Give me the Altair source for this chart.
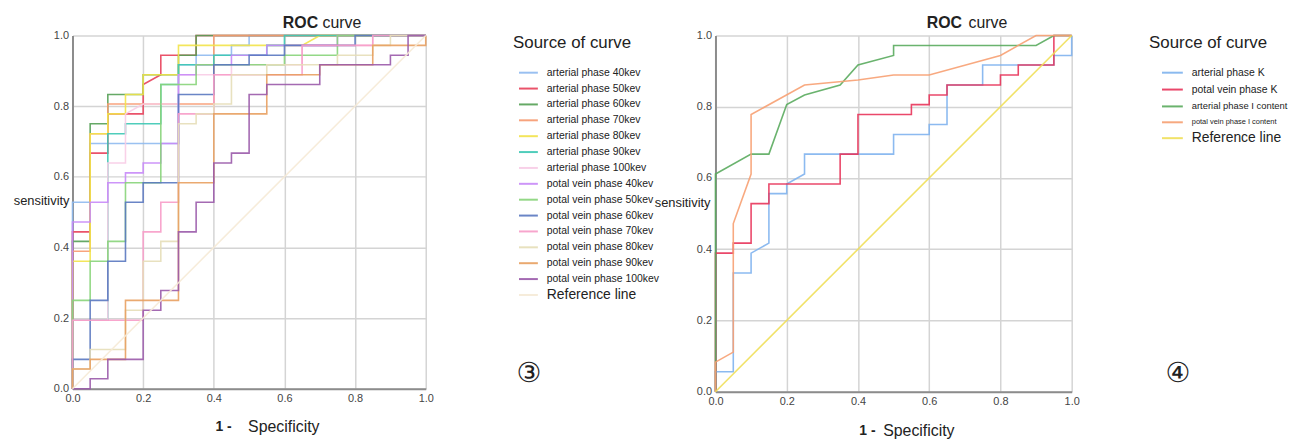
import altair as alt
import pandas as pd

FONT = "Liberation Sans"

# ---------------- left panel (energy levels) ----------------
LEFT_LABELS = [
    "arterial phase 40kev", "arterial phase 50kev", "arterial phase 60kev",
    "arterial phase 70kev", "arterial phase 80kev", "arterial phase 90kev",
    "arterial phase 100kev", "potal vein phase 40kev", "potal vein phase 50kev",
    "potal vein phase 60kev", "potal vein phase 70kev", "potal vein phase 80kev",
    "potal vein phase 90kev", "potal vein phase 100kev", "Reference line",
]
LEFT_COLORS = [
    "#8fbaf0", "#e8405a", "#55a055", "#f79a70", "#f2e34a", "#3cc8b4",
    "#f8cce6", "#c88af8", "#88d47a", "#5a78c0", "#f79cc8", "#e6deb8",
    "#e8a060", "#9a5aaa", "#f6ead6",
]

art40 = [(0, 0), (0, 0.528), (0.05, 0.528), (0.05, 0.694), (0.3, 0.694), (0.3, 0.917),
         (0.35, 0.917), (0.35, 0.944), (0.45, 0.944), (0.45, 0.972), (0.5, 0.972),
         (0.5, 1.0), (1, 1)]
art50 = [(0, 0), (0, 0.444), (0.05, 0.444), (0.05, 0.667), (0.1, 0.667), (0.1, 0.778),
         (0.2, 0.778), (0.2, 0.861), (0.25, 0.889), (0.25, 0.944), (0.35, 0.944),
         (0.35, 1.0), (1, 1)]
art60 = [(0, 0), (0, 0.417), (0.05, 0.417), (0.05, 0.75), (0.1, 0.75), (0.1, 0.833),
         (0.2, 0.833), (0.2, 0.889), (0.3, 0.889), (0.3, 0.944), (0.35, 0.944),
         (0.35, 1.0), (1, 1)]
art70 = [(0, 0), (0, 0.389), (0.05, 0.389), (0.05, 0.722), (0.1, 0.722), (0.1, 0.806),
         (0.4, 0.806), (0.4, 1.0), (1, 1)]
art80 = [(0, 0), (0, 0.361), (0.05, 0.361), (0.05, 0.722), (0.1, 0.722), (0.1, 0.778),
         (0.15, 0.778), (0.15, 0.833), (0.2, 0.833), (0.2, 0.889), (0.3, 0.889),
         (0.3, 0.972), (0.65, 0.972), (0.7, 1.0), (1, 1)]
art90 = [(0, 0), (0, 0.194), (0.1, 0.194), (0.1, 0.722), (0.15, 0.722), (0.15, 0.75),
         (0.25, 0.75), (0.25, 0.861), (0.3, 0.861), (0.3, 0.917), (0.4, 0.917),
         (0.4, 0.944), (0.55, 0.944), (0.55, 0.972), (0.6, 0.972), (0.6, 1.0), (1, 1)]
art100 = [(0, 0), (0, 0.194), (0.1, 0.194), (0.1, 0.639), (0.15, 0.639), (0.15, 0.778),
          (0.2, 0.806), (0.3, 0.806), (0.3, 0.889), (0.45, 0.889), (0.45, 0.917),
          (0.65, 0.917), (0.65, 0.972), (0.85, 0.972), (0.85, 1.0), (1, 1)]
pv40 = [(0, 0), (0, 0.472), (0.05, 0.472), (0.05, 0.528), (0.1, 0.528), (0.1, 0.583),
        (0.15, 0.583), (0.15, 0.611), (0.2, 0.611), (0.2, 0.639), (0.25, 0.639),
        (0.25, 0.694), (0.3, 0.694), (0.3, 0.889), (0.35, 0.889), (0.35, 0.917),
        (0.45, 0.917), (0.45, 0.944), (0.55, 0.944), (0.55, 0.972), (0.75, 0.972),
        (0.75, 1.0), (1, 1)]
pv50 = [(0, 0), (0, 0.25), (0.05, 0.25), (0.05, 0.361), (0.1, 0.361), (0.1, 0.417),
        (0.15, 0.417), (0.15, 0.583), (0.25, 0.583), (0.25, 0.861), (0.35, 0.861),
        (0.35, 0.917), (0.6, 0.917), (0.6, 0.944), (0.75, 0.944), (0.75, 1.0), (1, 1)]
pv60 = [(0, 0), (0, 0.083), (0.05, 0.083), (0.05, 0.25), (0.1, 0.25), (0.1, 0.361),
        (0.15, 0.361), (0.15, 0.528), (0.2, 0.528), (0.2, 0.583), (0.3, 0.583),
        (0.3, 0.833), (0.4, 0.833), (0.4, 0.917), (0.5, 0.917), (0.5, 0.944),
        (0.6, 0.944), (0.6, 0.972), (0.8, 0.972), (0.8, 1.0), (1, 1)]
pv70 = [(0, 0), (0, 0.194), (0.2, 0.194), (0.2, 0.444), (0.25, 0.444), (0.25, 0.528),
        (0.3, 0.528), (0.3, 0.778), (0.4, 0.778), (0.4, 0.889), (0.65, 0.889),
        (0.65, 0.972), (0.85, 0.972), (0.85, 1.0), (1, 1)]
pv80 = [(0, 0), (0, 0.056), (0.05, 0.056), (0.05, 0.111), (0.15, 0.111), (0.15, 0.222),
        (0.2, 0.222), (0.2, 0.361), (0.25, 0.361), (0.25, 0.417), (0.3, 0.417),
        (0.3, 0.75), (0.35, 0.75), (0.35, 0.778), (0.4, 0.778), (0.4, 0.806),
        (0.45, 0.806), (0.45, 0.889), (0.55, 0.889), (0.55, 0.917), (0.75, 0.917),
        (0.75, 0.944), (0.85, 0.944), (0.85, 0.972), (0.9, 0.972), (0.9, 1.0), (1, 1)]
pv90 = [(0, 0), (0, 0.056), (0.05, 0.056), (0.05, 0.083), (0.15, 0.083), (0.15, 0.25),
        (0.3, 0.25), (0.3, 0.583), (0.4, 0.583), (0.4, 0.778), (0.55, 0.778),
        (0.55, 0.889), (0.7, 0.889), (0.7, 0.917), (0.85, 0.917), (0.85, 0.972),
        (1, 0.972), (1, 1)]
pv100 = [(0, 0), (0.05, 0), (0.05, 0.028), (0.1, 0.028), (0.1, 0.083), (0.2, 0.083),
         (0.2, 0.222), (0.25, 0.222), (0.25, 0.278), (0.3, 0.278), (0.3, 0.444),
         (0.35, 0.444), (0.35, 0.528), (0.4, 0.528), (0.4, 0.639), (0.45, 0.639),
         (0.45, 0.667), (0.5, 0.667), (0.5, 0.833), (0.55, 0.833), (0.55, 0.861),
         (0.7, 0.861), (0.7, 0.917), (0.9, 0.917), (0.9, 0.944), (0.95, 0.944),
         (0.95, 1.0), (1, 1)]
ref_line = [(0, 0), (1, 1)]

LEFT_CURVES = [art40, art50, art60, art70, art80, art90, art100,
               pv40, pv50, pv60, pv70, pv80, pv90, pv100, ref_line]

# ---------------- right panel (K / I content) ----------------
RIGHT_LABELS = ["arterial phase K", "potal vein phase K", "arterial phase I content",
                "potal vein phase I content", "Reference line"]
RIGHT_COLORS = ["#7fb3ee", "#e8345a", "#5aab5e", "#f7a072", "#f0df58"]

art_k = [(0, 0), (0, 0.056), (0.05, 0.056), (0.05, 0.333), (0.1, 0.333), (0.1, 0.389),
         (0.15, 0.417), (0.15, 0.556), (0.2, 0.556), (0.2, 0.583), (0.25, 0.611),
         (0.25, 0.667), (0.5, 0.667), (0.5, 0.722), (0.6, 0.722), (0.6, 0.75),
         (0.65, 0.75), (0.65, 0.861), (0.75, 0.861), (0.75, 0.917), (0.95, 0.917),
         (0.95, 0.944), (1, 0.944), (1, 1)]
pv_k = [(0, 0), (0, 0.389), (0.05, 0.389), (0.05, 0.417), (0.1, 0.417), (0.1, 0.528),
        (0.15, 0.528), (0.15, 0.583), (0.35, 0.583), (0.35, 0.667), (0.4, 0.667),
        (0.4, 0.778), (0.55, 0.778), (0.55, 0.806), (0.6, 0.806), (0.6, 0.833),
        (0.65, 0.833), (0.65, 0.861), (0.8, 0.861), (0.8, 0.889), (0.85, 0.889),
        (0.85, 0.917), (0.95, 0.917), (0.95, 1.0), (1, 1)]
art_i = [(0, 0), (0, 0.611), (0.1, 0.667), (0.15, 0.667), (0.2, 0.806), (0.25, 0.833),
         (0.35, 0.861), (0.4, 0.917), (0.5, 0.944), (0.5, 0.972), (0.9, 0.972),
         (0.95, 1.0), (1, 1)]
pv_i = [(0, 0), (0, 0.083), (0.05, 0.111), (0.05, 0.472), (0.1, 0.611), (0.1, 0.778),
        (0.25, 0.861), (0.4, 0.875), (0.5, 0.889), (0.6, 0.889), (0.8, 0.944),
        (0.9, 1.0), (1, 1)]
ref_line_r = [(0, 0), (1, 1)]

RIGHT_CURVES = [art_k, pv_k, art_i, pv_i, ref_line_r]

TICKS = [0, 0.2, 0.4, 0.6, 0.8, 1.0]


def to_frame(labels, curves):
    rows = []
    for lab, pts in zip(labels, curves):
        for i, (x, y) in enumerate(pts):
            rows.append({"series": lab, "x": x, "y": y, "i": i})
    return pd.DataFrame(rows)


def txt(s, x, y, size, weight="normal", align="left", font=FONT, color="#222"):
    return alt.Chart(pd.DataFrame({"t": [s]})).mark_text(
        font=font, fontSize=size, fontWeight=weight, align=align,
        baseline="middle", color=color
    ).encode(text="t:N", x=alt.value(x), y=alt.value(y))


def axis():
    return alt.Axis(values=TICKS, format=".1f", title=None, grid=True,
                    gridColor="#d4d4d4", gridWidth=1.5, ticks=False,
                    domainColor="#8c8c8c", domainWidth=2, labelFont=FONT,
                    labelFontSize=11, labelColor="#444", labelPadding=4,
                    labelFlush=False)


def panel(labels, colors, curves, w, h, legend_x, sym_off, sym_size, title_pad,
          size_expr, texts):
    df = to_frame(labels, curves)
    lines = alt.Chart(df).mark_line(strokeWidth=1.6, opacity=0.9).encode(
        x=alt.X("x:Q", scale=alt.Scale(domain=[0, 1], nice=False), axis=axis()),
        y=alt.Y("y:Q", scale=alt.Scale(domain=[0, 1], nice=False), axis=axis()),
        color=alt.Color(
            "series:N",
            scale=alt.Scale(domain=labels, range=colors),
            sort=labels,
            legend=alt.Legend(
                title="Source of curve", orient="none", legendX=legend_x, legendY=0,
                titleFont=FONT, titleFontSize=17, titleFontWeight="normal",
                titleColor="#222", titlePadding=title_pad, labelFont=FONT,
                labelFontSize={"expr": size_expr}, labelColor="#222",
                symbolType="stroke", symbolSize=sym_size, symbolStrokeWidth=2,
                symbolOpacity=0.9, symbolOffset=sym_off, rowPadding=0,
                labelOffset=8, padding=0, labelLimit=300,
            ),
        ),
        order="i:Q",
    )
    layers = [lines] + texts
    return alt.layer(*layers).properties(width=w, height=h)


left = panel(
    LEFT_LABELS, LEFT_COLORS, LEFT_CURVES, 356, 356, 444, 5, 361, 10,
    "datum.label == 'Reference line' ? 14 : 10.5",
    [
        txt("ROC", 212, -13, 16, weight="bold"),
        txt("curve", 252, -13, 16),
        txt("sensitivity", -3, 167, 13, align="right"),
        txt("1 -", 144, 395, 14, weight="bold"),
        txt("Specificity", 177, 395, 16),
        txt("③", 460, 341, 28, align="center", font="DejaVu Sans"),
    ],
)

right = panel(
    RIGHT_LABELS, RIGHT_COLORS, RIGHT_CURVES, 359, 359, 437, 12, 441, 9,
    "datum.label == 'Reference line' ? 14 : (datum.label == 'potal vein phase I content' ? 7.5 : (datum.label == 'arterial phase I content' ? 9.5 : 10.5))",
    [
        txt("ROC", 213, -13, 16, weight="bold"),
        txt("curve", 255, -13, 16),
        txt("sensitivity", -5, 169, 13, align="right"),
        txt("1 -", 145, 399, 14, weight="bold"),
        txt("Specificity", 169, 399, 16),
        txt("④", 466, 341, 28, align="center", font="DejaVu Sans"),
    ],
)

chart = alt.hconcat(left, right, spacing=292, bounds="flush").resolve_scale(
    color="independent"
).resolve_legend(color="independent").properties(
    padding={"left": 5, "top": 5, "right": 0, "bottom": 0}
).configure_view(stroke=None)

chart.save("out.html", embed_options={"renderer": "svg", "actions": False})
